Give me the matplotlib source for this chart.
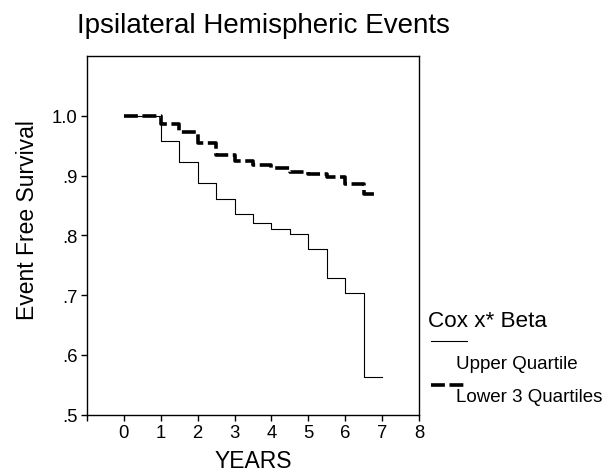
import matplotlib

matplotlib.use("Agg")

import matplotlib.pyplot as plt
from matplotlib.lines import Line2D

plt.rcParams["font.family"] = ["Liberation Sans", "DejaVu Sans"]

# Kaplan-Meier style step values
UPPER_YEARS = [0, 1, 1.5, 2, 2.5, 3, 3.5, 4, 4.5, 5, 5.5, 6, 6.5, 7]
UPPER_SURV = [1.0, 0.957, 0.922, 0.887, 0.861, 0.836, 0.820, 0.811, 0.802,
              0.777, 0.729, 0.704, 0.563, 0.563]

LOWER_YEARS = [0, 1, 1.5, 2, 2.5, 3, 3.5, 4, 4.5, 5, 5.5, 6, 6.5, 6.85]
LOWER_SURV = [1.0, 0.986, 0.973, 0.954, 0.935, 0.924, 0.918, 0.913, 0.906,
              0.902, 0.898, 0.886, 0.869, 0.869]

X_TICKS = [-1, 0, 1, 2, 3, 4, 5, 6, 7, 8]
X_TICK_LABELS = ["", "0", "1", "2", "3", "4", "5", "6", "7", "8"]
Y_TICKS = [0.5, 0.6, 0.7, 0.8, 0.9, 1.0]
Y_TICK_LABELS = [".5", ".6", ".7", ".8", ".9", "1.0"]

DASHED_LW = 2.6
DASH_PATTERN = (10.0 / DASHED_LW, 3.3 / DASHED_LW)


def main() -> None:
    fig = plt.figure(figsize=(6.04, 4.77), dpi=100)
    ax = fig.add_axes([0.144, 0.1285, 0.5497, 0.752])

    ax.step(UPPER_YEARS, UPPER_SURV, where="post", color="black", linewidth=0.8)
    ax.step(
        LOWER_YEARS,
        LOWER_SURV,
        where="post",
        color="black",
        linewidth=DASHED_LW,
        linestyle=(0, DASH_PATTERN),
    )

    ax.set_xlim(-1, 8)
    ax.set_ylim(0.5, 1.1)
    ax.set_xticks(X_TICKS)
    ax.set_xticklabels(X_TICK_LABELS)
    ax.set_yticks(Y_TICKS)
    ax.set_yticklabels(Y_TICK_LABELS)
    ax.tick_params(direction="out", length=4, width=1, labelsize=13.3, pad=3)

    for spine in ax.spines.values():
        spine.set_linewidth(1.0)

    fig.text(0.1275, 0.931, "Ipsilateral Hemispheric Events", fontsize=20,
             ha="left", va="baseline")
    fig.text(0.045, 0.538, "Event Free Survival", fontsize=16.5,
             rotation=90, ha="center", va="center")
    fig.text(0.419, 0.018, "YEARS", fontsize=16.5, ha="center", va="baseline")

    # legend drawn by hand, like the original
    fig.text(0.709, 0.314, "Cox x* Beta", fontsize=16.2, ha="left", va="baseline")
    fig.add_artist(Line2D([0.713, 0.773], [0.283, 0.283], color="black",
                          linewidth=0.8, transform=fig.transFigure))
    fig.text(0.755, 0.226, "Upper Quartile", fontsize=13.5, ha="left",
             va="baseline")
    fig.add_artist(Line2D([0.713, 0.773], [0.191, 0.191], color="black",
                          linewidth=DASHED_LW, linestyle=(0, DASH_PATTERN),
                          transform=fig.transFigure))
    fig.text(0.755, 0.157, "Lower 3 Quartiles", fontsize=13.5, ha="left",
             va="baseline")

    fig.savefig("out.png", dpi=100)
    plt.close(fig)


if __name__ == "__main__":
    main()
